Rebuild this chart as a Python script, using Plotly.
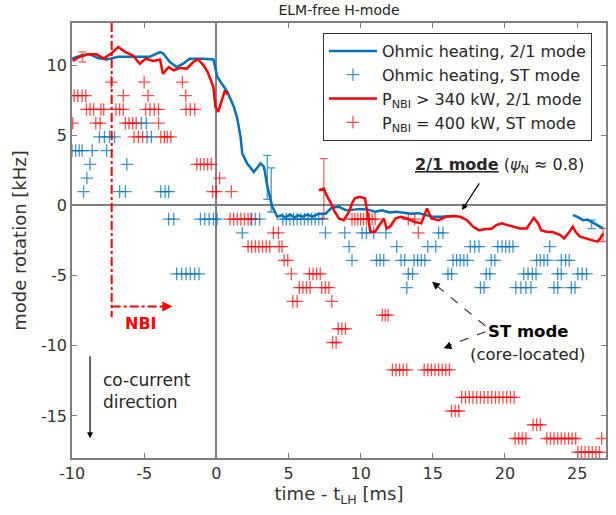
import plotly.graph_objects as go

# ---------------- data ----------------
# Ohmic heating, 2/1 mode (blue line); None separates segments
ohm21_t = [-10.0, -9.3, -8.75, -8.2, -7.6, -6.8, -5.9, -4.6, -3.9, -3.7, -3.2, -2.75, -2.3, -1.85,
           -0.9, -0.5, -0.2, 0.07, 0.4, 0.76, 1.22, 1.45, 1.68, 1.8, 2.14, 2.6, 3.07, 3.3, 3.53,
           3.88, 4.22, 4.5, 4.8, 5.1, 5.4, 5.7, 6.0, 6.3, 6.65, 7.1, 7.57, 8.0, 8.5, 9.0, 9.5,
           10.0, 10.5, 11.0, 11.5, 12.0, 12.5, 13.0, 13.5, 14.0, 14.5, 15.0, 15.5, 16.0, 16.6,
           None, 24.7, 25.0, 25.4, 25.7, 26.0, 26.4, 26.8]
ohm21_f = [10.46, 10.7, 10.77, 10.5, 10.4, 10.6, 10.6, 10.6, 10.93, 10.85, 10.2, 9.86, 10.1, 10.46,
           10.46, 10.4, 10.4, 9.15, 8.6, 8.09, 7.02, 6.19, 4.88, 3.7, 2.99, 2.39, 2.99, 2.75, 1.4,
           -0.1, -0.81, -0.7, -0.85, -0.65, -0.85, -0.7, -0.8, -0.65, -0.8, -0.6, -0.6, -0.15, -0.1,
           -0.35, -0.3, -0.25, -0.3, -0.45, -0.35, -0.5, -0.45, -0.5, -0.6, -0.55, -0.7, -0.8, -0.8,
           -0.8, -0.75,
           None, -0.69, -0.8, -1.05, -1.0, -1.17, -1.4, -1.64]

# P_NBI > 340 kW, 2/1 mode (red line)
nbi21_t = [-9.95, -9.5, -8.9, -8.3, -7.8, -7.3, -6.8, -6.3, -5.8, -5.3, -4.9, -4.4, -3.9, -3.7,
           -3.3, -2.96, -2.5, -2.05, -1.6, -1.26, -0.9, -0.6, -0.2, -0.06, 0.13, 0.4, 0.6, 0.8,
           None, 7.1, 7.45, 7.6, 7.95, 8.2, 8.5, 8.83, 9.2, 9.4, 9.6, 9.95, 10.3, 10.5, 10.67, 11.0,
           11.4, 11.6, 11.8, 12.05, 12.4, 12.75, 13.2, 13.7, 14.2, 14.4, 14.6, 14.9, 15.4, 15.9,
           16.4, 16.9, 17.37, 17.8, 18.2, 18.6, 19.1, 19.4, 19.8, 20.0, 20.35, 20.7, 21.05, 21.5,
           21.75, 22.0, 22.3, 22.5, 22.85, 23.3, 23.8, 24.1, 24.45, 24.7, 24.9, 25.2, 25.6, 26.0,
           26.4, 26.6, 26.8]
nbi21_f = [10.3, 10.58, 10.77, 10.77, 10.46, 10.82, 11.29, 10.93, 10.7, 10.1, 10.46, 10.3, 10.4, 9.39,
           9.86, 9.63, 9.8, 9.75, 10.22, 10.4, 10.0, 9.51, 8.44, 7.02, 6.66, 7.5, 8.2, 7.9,
           None, 1.09, 1.2, 0.8, 0.14, -0.45, -0.93, -1.05, -0.45, 0.14, 0.5, 0.61, 0.5, -0.69, -1.88,
           -1.88, -1.28, -0.93, -1.64, -1.5, -0.93, -0.81, -0.93, -1.17, -1.28, -0.69, -0.21, -0.93,
           -1.05, -0.81, -0.75, -0.81, -1.05, -1.52, -1.76, -1.7, -1.64, -1.4, -1.28, -1.35, -1.46,
           -1.52, -1.64, -1.64, -1.28, -0.88, -1.28, -1.76, -1.88, -1.9, -2.1, -2.35, -1.9, -1.52,
           -1.9, -2.23, -2.35, -2.47, -2.58, -2.35, -2.0]

# error bars
ohm21_eb_t = [3.53, 3.8, 26.0]
ohm21_eb_f = [2.0, 1.1, -1.35]
ohm21_eb_e = [1.57, 1.57, 0.3]
nbi21_eb_t = [-9.27, 7.45, 26.8]
nbi21_eb_f = [10.58, 1.2, -2.1]
nbi21_eb_e = [0.36, 2.13, 0.47]

# Ohmic heating, ST mode (blue +): frequency levels and times at each level
ohm_st_levels = [5.86, 4.88, 3.91, 2.93, 1.95, 0.98, -0.98, -1.95, -2.93, -3.91, -4.88, -5.86]
ohm_st_times = [
    [-5.2, -4.85],
    [-8.1, -7.75, -7.4, -7.05, -4.8, -4.5],
    [-10.0, -9.75, -9.5, -9.3, -8.6, -7.6],
    [-8.75, -6.2],
    [-8.97],
    [-9.2, -6.7, -6.3, -3.85, -3.55, -3.3],
    [-3.3, -2.95, -1.1, -0.8, -0.5, -0.2, 0.05, 2.4, 2.7, 3.0, 4.6, 4.85, 5.1, 5.35, 5.6,
     5.85, 6.1, 6.35, 6.6, 6.85, 7.1, 7.35],
    [1.8, 7.56, 8.9, 10.1, 10.4, 10.9, 11.75, 15.4, 15.7],
    [9.2, 12.5, 14.65, 15.2, 17.6, 17.9, 18.2, 19.5, 19.8, 20.05, 20.3, 20.55, 23.1],
    [9.4, 11.1, 11.35, 11.6, 12.8, 13.05, 13.7, 13.95, 14.2, 14.45, 16.4, 16.65, 16.9, 17.15,
     17.4, 19.05, 19.3, 22.2, 22.45, 22.7, 22.95, 23.9, 24.2, 24.45],
    [-2.75, -2.4, -2.1, -1.8, -1.5, -1.2, 13.3, 13.6, 16.05, 16.3, 18.7, 18.95, 21.3, 21.6,
     21.9, 22.15, 23.65, 23.9, 25.05, 25.35, 25.65],
    [13.2, 18.3, 18.55, 20.75, 21.1, 21.45, 21.8, 23.4, 23.65, 24.6, 24.85],
]

# P_NBI = 400 kW, ST mode (red +)
nbi_st_levels = [8.79, 7.82, 6.84, 5.86, 4.88, 2.93, 1.95, 0.98, -0.98, -1.95, -2.93, -3.91,
                 -4.88, -5.86, -6.84, -7.82, -8.79, -9.77, -11.72, -13.68, -14.65, -15.63,
                 -16.61, -17.59]
nbi_st_times = [
    [-7.27, -5.0, -2.35],
    [-9.85, -9.6, -9.3, -9.05, -6.44, -4.73, -2.12],
    [-9.0, -8.75, -8.5, -8.0, -7.8, -6.95, -6.7, -6.45, -4.9, -4.6, -4.3, -4.0, -2.1, -1.8, -1.5],
    [-9.95, -8.35, -8.05, -6.3, -6.05, -5.8, -5.55, -4.0],
    [-5.7, -5.4, -5.1, -3.85, -3.6, -3.4, -3.15],
    [-1.35, -1.1, -0.85, -0.6, -0.35],
    [0.23],
    [-0.25, 0.0, 1.04],
    [0.95, 1.2, 1.45, 1.7, 1.95, 2.2, 2.45, 9.4, 9.6, 9.8, 10.0, 10.2, 10.4, 10.6, 10.8, 11.0,
     13.3, 13.75],
    [3.95, 4.3, 14.0],
    [2.2, 2.45, 2.7, 2.95, 3.2, 3.45, 3.7, 4.35, 4.55],
    [4.7, 4.95],
    [5.2, 6.45, 6.7, 6.95, 7.2],
    [5.75, 6.0, 6.25, 6.5, 7.3, 7.55, 7.8],
    [5.3, 5.6, 8.0],
    [11.5, 11.7, 11.9],
    [8.45, 8.7, 8.95],
    [8.05, 8.3],
    [12.2, 12.45, 12.7, 12.95, 13.2, 14.4, 14.65, 14.9, 15.15, 15.4, 15.65, 15.9, 16.15],
    [17.0, 17.26, 17.52, 17.78, 18.04, 18.3, 18.56, 18.82, 19.08, 19.34, 19.6, 19.86, 20.12,
     20.38, 20.64],
    [16.3, 16.55, 16.8],
    [21.95, 22.2, 22.45],
    [20.7, 20.95, 21.2, 21.45, 22.9, 23.15, 23.4, 23.65, 23.9, 24.15, 24.4, 24.65, 24.9, 26.7],
    [25.05, 25.3, 25.55, 25.8, 26.05, 26.3, 26.55],
]

x_ticks = [-10, -5, 0, 5, 10, 15, 20, 25]
y_ticks = [-15, -10, -5, 0, 5, 10]

# ---------------- styling ----------------
FONT = "DejaVu Sans"
BLUE = "#0072BD"
RED = "#FF0000"
BLUE_M = "rgba(0,114,189,0.75)"
RED_M = "rgba(255,0,0,0.7)"


def flatten(levels, times):
    xs, ys = [], []
    for lv, ts in zip(levels, times):
        for t in ts:
            xs.append(t)
            ys.append(lv)
    return xs, ys


ohm_st_x, ohm_st_y = flatten(ohm_st_levels, ohm_st_times)
nbi_st_x, nbi_st_y = flatten(nbi_st_levels, nbi_st_times)

fig = go.Figure()

# ST markers
fig.add_trace(go.Scatter(
    x=ohm_st_x, y=ohm_st_y, mode="markers", name="Ohmic heating, ST mode",
    marker=dict(symbol="cross-thin", size=9, color=BLUE_M, line=dict(color=BLUE_M, width=1.3)),
    legendrank=2))
fig.add_trace(go.Scatter(
    x=nbi_st_x, y=nbi_st_y, mode="markers", name="P<sub>NBI</sub> = 400 kW, ST mode",
    marker=dict(symbol="cross-thin", size=9, color=RED_M, line=dict(color=RED_M, width=1.3)),
    legendrank=4))

# error bars
fig.add_trace(go.Scatter(
    x=ohm21_eb_t, y=ohm21_eb_f, mode="markers", showlegend=False,
    marker=dict(size=1, color="rgba(0,0,0,0)"),
    error_y=dict(type="data", array=ohm21_eb_e, color="rgba(0,114,189,0.75)", thickness=1.3, width=4)))
fig.add_trace(go.Scatter(
    x=nbi21_eb_t, y=nbi21_eb_f, mode="markers", showlegend=False,
    marker=dict(size=1, color="rgba(0,0,0,0)"),
    error_y=dict(type="data", array=nbi21_eb_e, color="rgba(255,0,0,0.6)", thickness=1.3, width=4)))

# 2/1 mode lines
fig.add_trace(go.Scatter(
    x=ohm21_t, y=ohm21_f, mode="lines", name="Ohmic heating, 2/1 mode",
    line=dict(color=BLUE, width=2.5), connectgaps=False, legendrank=1))
fig.add_trace(go.Scatter(
    x=nbi21_t, y=nbi21_f, mode="lines", name="P<sub>NBI</sub> > 340 kW, 2/1 mode",
    line=dict(color=RED, width=2.5), connectgaps=False, legendrank=3))

# NBI marker lines
fig.add_shape(type="line", x0=-7.25, x1=-7.25, y0=13, y1=-7.95, xref="x", yref="y",
              line=dict(color=RED, width=2, dash="dashdot"))
fig.add_shape(type="line", x0=-7.25, x1=-3.5, y0=-7.2, y1=-7.2, xref="x", yref="y",
              line=dict(color=RED, width=2, dash="dashdot"))
fig.add_annotation(x=-3.05, y=-7.2, ax=-3.6, ay=-7.2, xref="x", yref="y", axref="x", ayref="y",
                   text="", showarrow=True, arrowhead=2, arrowsize=1, arrowwidth=2, arrowcolor=RED)
fig.add_annotation(x=-5.24, y=-8.4, text="<b>NBI</b>", showarrow=False,
                   font=dict(family=FONT, size=16, color=RED))

# co-current direction
fig.add_annotation(x=-8.75, y=-16.6, ax=-8.75, ay=-10.65, xref="x", yref="y", axref="x", ayref="y",
                   text="", showarrow=True, arrowhead=2, arrowsize=1, arrowwidth=1.2,
                   arrowcolor="#000000")
fig.add_annotation(x=-8.0, y=-13.2, text="co-current<br>direction", showarrow=False,
                   xanchor="left", align="left", font=dict(family=FONT, size=17, color="#262626"))

# 2/1 mode label
fig.add_annotation(x=17.02, y=-0.33, ax=18.29, ay=1.68, xref="x", yref="y", axref="x", ayref="y",
                   text="", showarrow=True, arrowhead=2, arrowsize=1, arrowwidth=1.2,
                   arrowcolor="#000000")
fig.add_annotation(x=13.65, y=2.87, xanchor="left",
                   text="<b><u>2/1 mode</u></b> (<i>ψ</i><sub>N</sub> ≈ 0.8)", showarrow=False,
                   font=dict(family=FONT, size=16, color="#262626"))

# ST mode label with dashed arrows
fig.add_shape(type="line", x0=18.64, y0=-8.59, x1=15.3, y1=-5.75, xref="x", yref="y",
              line=dict(color="#404040", width=1.2, dash="dash"))
fig.add_shape(type="line", x0=18.64, y0=-9.0, x1=16.1, y1=-10.0, xref="x", yref="y",
              line=dict(color="#404040", width=1.2, dash="dash"))
fig.add_annotation(x=14.95, y=-5.44, ax=15.45, ay=-5.87, xref="x", yref="y", axref="x", ayref="y",
                   text="", showarrow=True, arrowhead=2, arrowsize=1.3, arrowwidth=1.2,
                   arrowcolor="#000000")
fig.add_annotation(x=15.75, y=-10.18, ax=16.3, ay=-9.95, xref="x", yref="y", axref="x", ayref="y",
                   text="", showarrow=True, arrowhead=2, arrowsize=1.3, arrowwidth=1.2,
                   arrowcolor="#000000")
fig.add_annotation(x=21.62, y=-9.0, text="<b>ST mode</b>", showarrow=False,
                   font=dict(family=FONT, size=16.5, color="#000000"))
fig.add_annotation(x=21.62, y=-10.6, text="(core-located)", showarrow=False,
                   font=dict(family=FONT, size=16.5, color="#262626"))

axis_common = dict(
    showline=True, linecolor="#808080", linewidth=1.5, mirror="ticks",
    ticks="inside", ticklen=5, tickcolor="#808080", tickwidth=1,
    showgrid=False, zeroline=True, zerolinecolor="#808080", zerolinewidth=1.5,
    tickfont=dict(family=FONT, size=16, color="#333333"),
    automargin=False,
)

fig.update_layout(
    width=616, height=515,
    margin=dict(l=72, r=10, t=23, b=57, autoexpand=False),
    paper_bgcolor="white", plot_bgcolor="white",
    title=dict(text="ELM-free H-mode", x=0.5, xref="paper", xanchor="center",
               y=1 - 10 / 515, yref="container", yanchor="middle",
               font=dict(family=FONT, size=14, color="#262626")),
    xaxis=dict(range=[-10, 27], tickvals=x_ticks, ticktext=[str(v) for v in x_ticks],
               title=dict(text="time - t<sub>LH</sub> [ms]", standoff=4,
                          font=dict(family=FONT, size=18, color="#333333")),
               **axis_common),
    yaxis=dict(range=[-18, 13], tickvals=y_ticks, ticktext=[str(v) for v in y_ticks],
               title=dict(text="mode rotation [kHz]", standoff=10,
                          font=dict(family=FONT, size=18, color="#333333")),
               **axis_common),
    legend=dict(x=0.47, y=0.977, xanchor="left", yanchor="top",
                bgcolor="white", bordercolor="#333333", borderwidth=1,
                font=dict(family=FONT, size=16, color="#262626"),
                itemwidth=48, tracegroupgap=0),
    showlegend=True,
)

fig.write_html("out.html", config={"displayModeBar": False},
               post_script="document.body.style.margin='0';")
